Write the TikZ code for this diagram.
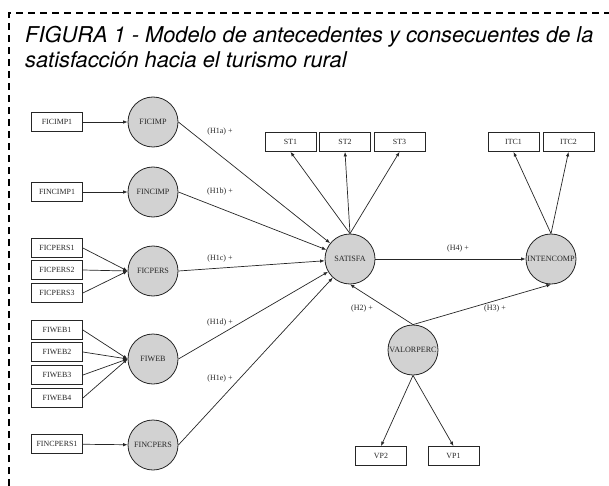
\documentclass[tikz,border=0pt]{standalone}
\usepackage{fontspec}
\setmainfont{Liberation Serif}
\newfontfamily\titlefont{TeX Gyre Heros}
\usetikzlibrary{arrows.meta}
\definecolor{latentfill}{HTML}{D2D2D2}
\definecolor{inkgray}{HTML}{262626}
\tikzset{
  indicator/.style={draw=inkgray, line width=0.8pt, minimum width=51pt, minimum height=19pt,
    inner sep=0pt, font=\fontsize{7.9}{8}\selectfont, text=inkgray},
  latent/.style={circle, draw=inkgray, line width=0.8pt, fill=latentfill, minimum size=50pt,
    inner sep=0pt, font=\fontsize{8.1}{8}\selectfont, text=inkgray},
  path label/.style={font=\fontsize{8}{8}\selectfont, text=inkgray, inner sep=0pt},
  arr/.style={draw=inkgray, line width=0.7pt, -{Latex[length=4.5pt,width=3.5pt]}},
  frame/.style={line width=2.2pt, dash pattern=on 7pt off 5pt},
  title/.style={anchor=base west, inner sep=0pt, font=\titlefont\itshape\fontsize{21.8}{25}\selectfont, text=black}
}
\begin{document}
\begin{tikzpicture}[x=1pt, y=-1pt]
\useasboundingbox (0,0) rectangle (609,486);

% dashed frame (top and left edges)
\draw[frame] (9,486) -- (9,13) -- (609,13);

% title
\node[title] (t1) at (25,43) {FIGURA 1 - Modelo de antecedentes y consecuentes de la};
\node[title] (t2) at (25,68) {satisfacción hacia el turismo rural};

% indicators of the antecedents
\node[indicator] (FICIMP1)   at (57,122) {FICIMP1};
\node[indicator] (FINCIMP1)  at (57,192) {FINCIMP1};
\node[indicator] (FICPERS1)  at (57,248) {FICPERS1};
\node[indicator] (FICPERS2)  at (57,270) {FICPERS2};
\node[indicator] (FICPERS3)  at (57,293) {FICPERS3};
\node[indicator] (FIWEB1)    at (57,330) {FIWEB1};
\node[indicator] (FIWEB2)    at (57,352) {FIWEB2};
\node[indicator] (FIWEB3)    at (57,375) {FIWEB3};
\node[indicator] (FIWEB4)    at (57,398) {FIWEB4};
\node[indicator] (FINCPERS1) at (57,444) {FINCPERS1};

% latent constructs
\node[latent] (FICIMP)    at (153,122) {FICIMP};
\node[latent] (FINCIMP)   at (153,192) {FINCIMP};
\node[latent] (FICPERS)   at (153,271) {FICPERS};
\node[latent] (FIWEB)     at (153,359) {FIWEB};
\node[latent] (FINCPERS)  at (153,445) {FINCPERS};
\node[latent] (SATISFA)   at (350,259) {SATISFA};
\node[latent] (INTENCOMP) at (551,259) {INTENCOMP};
\node[latent] (VALORPERC) at (413,350) {VALORPERC};

% indicators of the consequences
\node[indicator] (ST1)  at (290.5,142) {ST1};
\node[indicator] (ST2)  at (345,142) {ST2};
\node[indicator] (ST3)  at (399.5,142) {ST3};
\node[indicator] (ITC1) at (513.5,142) {ITC1};
\node[indicator] (ITC2) at (568.5,142) {ITC2};
\node[indicator] (VP2)  at (381,456) {VP2};
\node[indicator] (VP1)  at (453.5,456) {VP1};

% measurement arrows
\draw[arr] (FICIMP1) -- (FICIMP);
\draw[arr] (FINCIMP1) -- (FINCIMP);
\foreach \k in {1,2,3} \draw[arr] (FICPERS\k.east) -- (FICPERS.west);
\foreach \k in {1,2,3,4} \draw[arr] (FIWEB\k.east) -- (FIWEB.west);
\draw[arr] (FINCPERS1) -- (FINCPERS);
\foreach \k in {1,2,3} \draw[arr] (SATISFA.north) -- (ST\k.south);
\foreach \k in {1,2} \draw[arr] (INTENCOMP.north) -- (ITC\k.south);
\draw[arr] (VALORPERC.south) -- (VP2.north);
\draw[arr] (VALORPERC.south) -- (VP1.north);

% structural paths
\draw[arr] (FICIMP.east) -- (SATISFA);
\draw[arr] (FINCIMP.east) -- (SATISFA);
\draw[arr] (FICPERS.east) -- (SATISFA);
\draw[arr] (FIWEB.east) -- (SATISFA);
\draw[arr] (FINCPERS.east) -- (SATISFA);
\draw[arr] (SATISFA.east) -- (INTENCOMP.west);
\draw[arr] (VALORPERC.north) -- (SATISFA.south);
\draw[arr] (VALORPERC.north) -- (INTENCOMP.south);

% hypothesis labels
\node[path label] (h1a) at (220,132) {(H1a) +};
\node[path label] (h1b) at (220,192) {(H1b) +};
\node[path label] (h1c) at (220,259) {(H1c) +};
\node[path label] (h1d) at (220,323) {(H1d) +};
\node[path label] (h1e) at (220,379) {(H1e) +};
\node[path label] (h4)  at (458,249) {(H4) +};
\node[path label] (h2)  at (362,309) {(H2) +};
\node[path label] (h3)  at (495,309) {(H3) +};
\end{tikzpicture}
\end{document}
